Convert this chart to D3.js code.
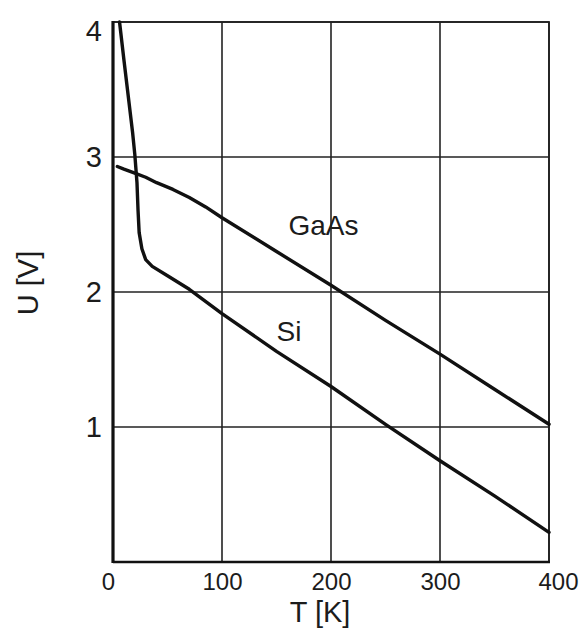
<!DOCTYPE html>
<html>
<head>
<meta charset="utf-8">
<script src="https://cdn.jsdelivr.net/npm/d3@7"></script>
<style>
  html, body { margin: 0; padding: 0; background: #fff; }
  svg { display: block; }
  text { font-family: "Liberation Sans", Arial, sans-serif; fill: #1c1c1c; }
</style>
</head>
<body>
<svg id="chart" width="582" height="634"></svg>
<script>
// Forward voltage U versus temperature T for two diodes
const gaasT = [4, 10, 20, 30, 40, 55, 70, 85, 100, 150, 200, 250, 300, 350, 400];
const gaasU = [2.93, 2.91, 2.88, 2.85, 2.81, 2.76, 2.70, 2.63, 2.55, 2.30, 2.05, 1.79, 1.54, 1.28, 1.02];

const siT = [6, 10, 14, 18, 20, 22, 23, 24, 26.5, 30, 36, 50, 70, 100, 150, 200, 250, 300, 350, 400];
const siU = [4.0, 3.72, 3.45, 3.18, 3.02, 2.81, 2.6, 2.44, 2.32, 2.24, 2.19, 2.12, 2.02, 1.84, 1.56, 1.30, 1.02, 0.75, 0.49, 0.22];

const xTicks = [0, 100, 200, 300, 400];
const yTicks = [1, 2, 3, 4];

const seriesLabels = [
  { name: "GaAs", t: 161, u: 2.42 },
  { name: "Si", t: 150, u: 1.64 }
];

const svg = d3.select("#chart");
const plotLeft = 113, plotRight = 549, plotTop = 22, plotBottom = 562;

const x = d3.scaleLinear().domain([0, 400]).range([plotLeft, plotRight]);
const y = d3.scaleLinear().domain([0, 4]).range([plotBottom, plotTop]);

// Grid lines
const grid = svg.append("g").attr("stroke", "#222").attr("stroke-width", 1.6);
grid.selectAll("line.v").data(xTicks.filter(d => d > 0)).join("line")
  .attr("class", "v")
  .attr("x1", d => x(d)).attr("x2", d => x(d))
  .attr("y1", plotTop).attr("y2", plotBottom);
grid.selectAll("line.h").data(yTicks).join("line")
  .attr("class", "h")
  .attr("x1", plotLeft).attr("x2", plotRight)
  .attr("y1", d => y(d)).attr("y2", d => y(d));

// Plot frame
svg.append("rect")
  .attr("x", plotLeft).attr("y", plotTop)
  .attr("width", plotRight - plotLeft).attr("height", plotBottom - plotTop)
  .attr("fill", "none").attr("stroke", "#222").attr("stroke-width", 1.8);

// Axes: heavy left and bottom lines
svg.append("line").attr("x1", plotLeft).attr("x2", plotLeft).attr("y1", plotTop - 1).attr("y2", plotBottom + 1)
  .attr("stroke", "#111").attr("stroke-width", 3.2);
svg.append("line").attr("x1", plotLeft).attr("x2", plotRight + 1).attr("y1", plotBottom).attr("y2", plotBottom)
  .attr("stroke", "#111").attr("stroke-width", 2.6);

// Curves
const line = d3.line().x(d => x(d[0])).y(d => y(d[1])).curve(d3.curveLinear);
const gaas = gaasT.map((t, i) => [t, gaasU[i]]);
const si = siT.map((t, i) => [t, siU[i]]);
[gaas, si].forEach(pts => {
  svg.append("path").attr("d", line(pts))
    .attr("fill", "none").attr("stroke", "#111")
    .attr("stroke-width", 3.4).attr("stroke-linejoin", "round").attr("stroke-linecap", "round");
});

// Series names
svg.selectAll("text.series").data(seriesLabels).join("text")
  .attr("class", "series")
  .attr("x", d => x(d.t)).attr("y", d => y(d.u))
  .attr("font-size", 28)
  .text(d => d.name);

// Tick labels (end labels pushed slightly outward)
const xAxis = d3.axisBottom(x).tickValues(xTicks).tickSize(0).tickPadding(0).tickFormat(d3.format("d"));
const gx = svg.append("g").attr("transform", `translate(0, ${plotBottom})`).call(xAxis);
gx.select(".domain").remove();
gx.selectAll("text").attr("y", 28).attr("dy", 0).attr("font-size", 24)
  .attr("dx", (d, i, n) => i === 0 ? -5 : (i === n.length - 1 ? 9 : 0))
  .attr("fill", "#1c1c1c").style("font-family", '"Liberation Sans", Arial, sans-serif');

const yAxis = d3.axisLeft(y).tickValues(yTicks).tickSize(0).tickPadding(0).tickFormat(d3.format("d"));
const gy = svg.append("g").attr("transform", `translate(${plotLeft - 11}, 0)`).call(yAxis);
gy.select(".domain").remove();
gy.selectAll(".tick").attr("transform", d => `translate(0, ${Math.max(y(d), 31)})`);
gy.selectAll("text").attr("x", 0).attr("dy", "0.36em").attr("font-size", 29)
  .attr("fill", "#1c1c1c").style("font-family", '"Liberation Sans", Arial, sans-serif');

// Axis titles
svg.append("text").attr("x", 320).attr("y", 622).attr("text-anchor", "middle")
  .attr("font-size", 29).text("T [K]");
svg.append("text").attr("transform", "translate(38, 283) rotate(-90)")
  .attr("text-anchor", "middle").attr("font-size", 29).text("U [V]");
</script>
</body>
</html>
